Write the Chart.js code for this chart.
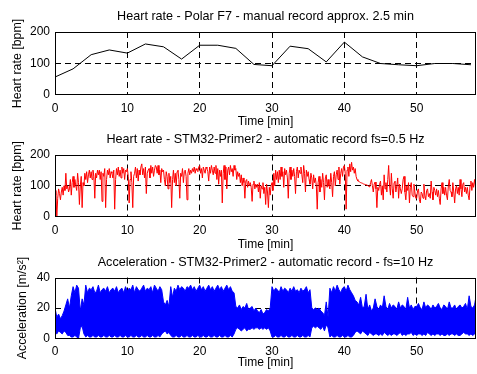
<!DOCTYPE html>
<html>
<head>
<meta charset="utf-8">
<script src="https://cdn.jsdelivr.net/npm/chart.js@4/dist/chart.umd.min.js"></script>
<style>
body { margin: 0; background: #fff; }
#wrap { position: relative; width: 477px; height: 374px; }
canvas { position: absolute; left: 0; }
</style>
</head>
<body>
<div id="wrap">
<canvas id="c1" width="477" height="131" style="top:0px"></canvas>
<canvas id="c2" width="477" height="123" style="top:131px"></canvas>
<canvas id="c3" width="477" height="120" style="top:254px"></canvas>
</div>
<script>

// x axis
const timeTicks = [0, 10, 20, 30, 40, 50]
const timeMax = 58.2

// Polar F7, one reading every 2.5 min
const polarTime = [0, 2.5, 5, 7.5, 10, 12.5, 15, 17.5, 20, 22.5, 25, 27.5, 30, 32.5, 35, 37.5, 40, 42.5, 45, 47.5, 50, 52.5, 55, 57.5]
const polarHr = [57, 83, 128, 143, 133, 162, 153, 114, 158, 158, 148, 97, 93, 155, 147, 105, 168, 121, 100, 96, 93, 100, 100, 96]
const hrTicks = [0, 100, 200]

const hrStep = 0.125
const hrAuto = [
    70, 85, 0, 60, 90, 75, 55, 80,
    95, 70, 100, 85, 140, 90, 100, 80,
    90, 120, 70, 110, 130, 95, 120, 100,
    85, 140, 110, 40, 100, 130, 30, 110,
    100, 140, 120, 145, 110, 135, 150, 125,
    145, 120, 150, 130, 60, 140, 125, 150,
    135, 150, 120, 145, 50, 140, 130, 155,
    30, 120, 150, 135, 155, 125, 145, 140,
    125, 150, 25, 120, 155, 135, 160, 130,
    150, 125, 160, 140, 155, 120, 150, 145,
    155, 130, 45, 120, 145, 110, 30, 130,
    140, 160, 125, 155, 115, 150, 135, 160,
    170, 135, 155, 125, 160, 75, 140, 150,
    155, 125, 165, 140, 160, 130, 150, 165,
    160, 140, 165, 135, 150, 110, 155, 145,
    150, 120, 100, 145, 130, 90, 140, 110,
    130, 30, 120, 150, 110, 140, 100, 145,
    150, 120, 60, 140, 130, 155, 110, 145,
    150, 130, 55, 140, 155, 135, 150, 140,
    155, 145, 160, 140, 155, 150, 145, 160,
    165, 140, 155, 125, 160, 150, 140, 160,
    155, 145, 115, 160, 140, 165, 150, 135,
    160, 140, 165, 120, 155, 105, 150, 130,
    150, 45, 140, 165, 120, 160, 90, 150,
    160, 135, 165, 145, 155, 130, 165, 150,
    155, 120, 145, 130, 140, 110, 135, 100,
    125, 110, 60, 115, 120, 95, 115, 100,
    110, 95, 50, 105, 115, 90, 105, 95,
    105, 80, 110, 60, 100, 90, 110, 75,
    95, 40, 105, 80, 30, 95, 70, 100,
    110, 85, 140, 100, 150, 120, 145, 110,
    150, 120, 160, 130, 145, 95, 155, 135,
    150, 125, 60, 140, 160, 120, 150, 130,
    155, 130, 75, 145, 160, 125, 150, 140,
    160, 135, 110, 165, 140, 80, 150, 130,
    145, 120, 105, 140, 125, 90, 135, 110,
    125, 100, 25, 110, 130, 80, 120, 95,
    140, 110, 55, 125, 135, 95, 120, 100,
    90, 140, 110, 65, 130, 145, 100, 135,
    150, 120, 160, 105, 140, 155, 130, 160,
    165, 140, 25, 150, 160, 130, 170, 145,
    175, 150, 160, 140, 155, 130, 120, 115,
    114, 112, 110, 109, 108, 106, 105, 104,
    103, 102, 100, 98, 96, 110, 120, 100,
    80, 105, 112, 90, 30, 95, 85, 105,
    115, 70, 100, 55, 135, 90, 110, 80,
    120, 165, 100, 70, 140, 90, 60, 110,
    115, 80, 100, 125, 60, 105, 90, 75,
    90, 120, 130, 80, 55, 100, 85, 110,
    45, 95, 110, 70, 65, 105, 80, 60,
    60, 85, 90, 55, 45, 80, 75, 60,
    105, 70, 55, 85, 90, 65, 75, 60,
    115, 80, 55, 95, 85, 70, 90, 65,
    85, 60, 40, 90, 110, 75, 95, 70,
    95, 70, 55, 100, 120, 85, 80, 65,
    110, 80, 45, 90, 100, 75, 95, 70,
    120, 90, 65, 105, 110, 80, 95, 75,
    95, 70, 55, 100, 115, 85, 110, 95,
    120, 100, 95, 110, 105
]

// acceleration envelope (upper / lower), every 0.25 min
const accStep = 0.25
const accHi = [
    20, 14, 16, 13, 15, 18, 22, 26, 20, 28, 34, 30, 35, 33, 18, 26,
    22, 35, 30, 33, 32, 34, 30, 31, 35, 30, 32, 33, 31, 34, 30, 32,
    33, 31, 34, 30, 32, 33, 30, 34, 31, 33, 32, 35, 30, 34, 32, 31,
    33, 35, 31, 33, 32, 34, 30, 35, 33, 31, 34, 32, 24, 22, 25, 21,
    34, 27, 33, 31, 35, 32, 34, 33, 31, 34, 33, 35, 32, 34, 31, 33,
    35, 32, 34, 31, 33, 35, 32, 34, 31, 33, 35, 32, 34, 31, 33, 35,
    32, 34, 31, 30, 21, 20, 22, 19, 21, 20, 23, 19, 20, 21, 18, 20,
    18, 17, 19, 16, 17, 19, 18, 20, 34, 31, 33, 32, 30, 34, 31, 33,
    32, 30, 33, 31, 34, 31, 32, 30, 33, 31, 32, 34, 30, 32, 20, 19,
    20, 19, 20, 18, 17, 15, 24, 14, 33, 30, 34, 31, 35, 32, 30, 33,
    34, 31, 35, 32, 30, 28, 25, 24, 22, 27, 20, 21, 29, 19, 22, 18,
    20, 26, 21, 19, 22, 20, 28, 21, 19, 23, 20, 22, 21, 19, 24, 20,
    22, 21, 19, 27, 20, 22, 19, 21, 21, 23, 20, 19, 24, 20, 22, 21,
    19, 22, 20, 21, 23, 20, 19, 22, 21, 19, 24, 20, 20, 22, 19, 21,
    22, 20, 21, 23, 19, 28, 21, 20, 22, 29, 20
]
const accLo = [
    4, 3, 5, 4, 3, 5, 4, 2, 2, 1, 1, 2, 1, 0, 7, 8,
    3, 1, 2, 1, 1, 2, 1, 1, 2, 1, 1, 2, 1, 1, 2, 1,
    1, 2, 1, 1, 2, 1, 1, 2, 1, 1, 2, 1, 1, 2, 1, 1,
    2, 1, 1, 2, 1, 1, 2, 1, 1, 2, 1, 3, 4, 5, 3, 4,
    2, 1, 1, 2, 1, 1, 2, 1, 1, 2, 1, 1, 2, 1, 1, 2,
    1, 1, 2, 1, 1, 2, 1, 1, 2, 1, 1, 2, 1, 1, 2, 1,
    1, 2, 1, 3, 6, 7, 6, 5, 6, 7, 5, 6, 6, 7, 6, 7,
    7, 6, 7, 6, 7, 6, 7, 5, 1, 1, 2, 1, 1, 2, 1, 1,
    2, 1, 1, 2, 1, 1, 2, 1, 1, 2, 1, 1, 2, 1, 7, 8,
    7, 8, 7, 6, 8, 5, 9, 7, 1, 2, 1, 1, 2, 1, 1, 2,
    1, 1, 2, 1, 1, 2, 4, 5, 4, 3, 5, 4, 3, 2, 4, 3,
    2, 3, 3, 2, 3, 2, 4, 3, 2, 3, 2, 3, 3, 2, 3, 4,
    2, 3, 2, 3, 3, 4, 2, 3, 2, 3, 3, 2, 3, 2, 4, 3,
    2, 3, 2, 3, 3, 2, 3, 2, 2, 3, 2, 3, 3, 2, 3, 2,
    2, 3, 4, 3, 3, 2, 3, 2, 3, 2, 3
]
const accTicks = [0, 20, 40]

const FAMILY = "'Liberation Sans', Arial, Helvetica, sans-serif"
const FONT = { family: FAMILY, size: 12, weight: 'normal' }
const YFONT = { family: FAMILY, size: 12.4, weight: 'normal' }

// MATLAB style box round the plot area
const boxPlugin = {
    id: 'box',
    afterDatasetsDraw(chart) {
        const a = chart.chartArea
        const ctx = chart.ctx
        const l = Math.round(a.left), t = Math.round(a.top)
        const r = Math.round(a.right), b = Math.round(a.bottom)
        ctx.save()
        ctx.strokeStyle = '#000'
        ctx.lineWidth = 1
        ctx.strokeRect(l + 0.5, t + 0.5, r - l - 1, b - t - 1)
        ctx.restore()
    }
}

// title centred over the plot area, not the whole canvas
const panelTitle = {
    id: 'panelTitle',
    afterDraw(chart, args, opts) {
        const a = chart.chartArea
        const ctx = chart.ctx
        ctx.save()
        ctx.fillStyle = '#000'
        ctx.font = '12.6px ' + FAMILY
        ctx.textAlign = 'center'
        ctx.textBaseline = 'middle'
        ctx.fillText(opts.text, (a.left + a.right) / 2, opts.y)
        ctx.restore()
    }
}

function gridColor(lo, hi) {
    return (c) => {
        if (!c.tick) return '#000'
        const v = c.tick.value
        return (v === lo || v === hi) ? 'rgba(0,0,0,0)' : '#000'
    }
}

function makeChart(id, cfg) {

    return new Chart(document.getElementById(id), {
        type: 'line',
        data: { datasets: cfg.datasets },
        options: {
            responsive: false,
            animation: false,
            devicePixelRatio: 1,
            layout: { padding: { left: 0, right: 1, top: cfg.top, bottom: 0 } },
            elements: { point: { radius: 0 }, line: { borderWidth: 1, tension: 0 } },
            plugins: {
                legend: { display: false },
                tooltip: { enabled: false },
                title: { display: false },
                panelTitle: { text: cfg.title, y: cfg.titleY }
            },
            scales: {
                x: {
                    type: 'linear',
                    min: 0,
                    max: timeMax,
                    afterBuildTicks: (s) => { s.ticks = timeTicks.map(v => ({ value: v })) },
                    afterFit: (s) => { s.height = cfg.xHeight },
                    ticks: { color: '#000', font: FONT, padding: 6, maxRotation: 0 },
                    grid: { color: gridColor(0, timeMax), lineWidth: 1, drawTicks: false },
                    border: { display: false, dash: [6, 4] },
                    title: { display: true, text: 'Time [min]', color: '#000', font: FONT, padding: { top: 0, bottom: cfg.xTitlePad } }
                },
                y: {
                    min: cfg.yTicks[0],
                    max: cfg.yTicks[cfg.yTicks.length - 1],
                    afterBuildTicks: (s) => { s.ticks = cfg.yTicks.map(v => ({ value: v })) },
                    afterFit: (s) => { s.width = 55 },
                    ticks: { color: '#000', font: FONT, padding: 5 },
                    grid: { color: gridColor(cfg.yTicks[0], cfg.yTicks[cfg.yTicks.length - 1]), lineWidth: 1, drawTicks: false },
                    border: { display: false, dash: [6, 4] },
                    title: { display: true, text: cfg.yTitle, color: '#000', font: YFONT, padding: { top: cfg.yTitlePad, bottom: 0 } }
                }
            }
        },
        plugins: [boxPlugin, panelTitle]
    })

}

const polarPoints = polarTime.map((t, i) => ({ x: t, y: polarHr[i] }))
const hrPoints = hrAuto.map((v, i) => ({ x: i * hrStep, y: v }))
const accHiPoints = accHi.map((v, i) => ({ x: i * accStep, y: v }))
const accLoPoints = accLo.map((v, i) => ({ x: i * accStep, y: v }))

makeChart('c1', {
    datasets: [{ data: polarPoints, borderColor: '#000', fill: false }],
    title: 'Heart rate - Polar F7 - manual record approx. 2.5 min', titleY: 17, top: 32,
    yTicks: hrTicks, yTitle: 'Heart rate [bpm]', yTitlePad: 10.6,
    xHeight: 36, xTitlePad: 1.8
})

makeChart('c2', {
    datasets: [{ data: hrPoints, borderColor: '#ff0000', fill: false }],
    title: 'Heart rate - STM32-Primer2 - automatic record fs=0.5 Hz', titleY: 9, top: 23.5,
    yTicks: hrTicks, yTitle: 'Heart rate [bpm]', yTitlePad: 10.6,
    xHeight: 37, xTitlePad: 1.8
})

makeChart('c3', {
    datasets: [
        { data: accHiPoints, borderColor: '#0000ff', fill: false },
        { data: accLoPoints, borderColor: '#0000ff', backgroundColor: '#0000ff', fill: '-1' }
    ],
    title: 'Acceleration - STM32-Primer2 - automatic record - fs=10 Hz', titleY: 9, top: 23.5,
    yTicks: accTicks, yTitle: 'Acceleration [m/s²]', yTitlePad: 15.6,
    xHeight: 35.5, xTitlePad: 3.8
})

</script>
</body>
</html>
